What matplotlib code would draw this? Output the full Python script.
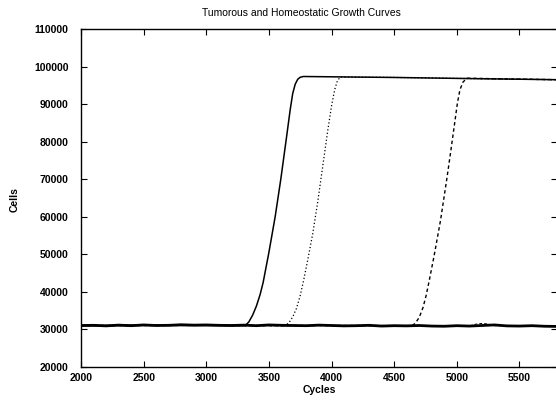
import matplotlib
matplotlib.use('Agg')
import matplotlib.pyplot as plt

# homeostatic (baseline) population, read every 100 cycles
homeo_x = list(range(2000, 5900, 100))
homeo_y = [31050, 31100, 30950, 31150, 31000, 31200, 31050, 31100, 31250, 31150,
           31200, 31100, 31050, 31150, 31000, 31200, 31100, 31050, 31000, 31150,
           31050, 30950, 31000, 31100, 30900, 31000, 30950, 31050, 30900, 30850,
           31000, 30900, 31050, 31200, 30950, 30900, 31000, 30850, 30800]

# second homeostatic run (thin dashed, small bump near 5200)
homeo2_x = [2000, 2400, 2800, 3200, 3600, 4000, 4400, 4800, 5100, 5150, 5200, 5250, 5300, 5500, 5800]
homeo2_y = [31000, 31100, 31050, 31150, 31000, 31100, 30950, 31000, 30900, 31400, 31600, 31450, 31000, 30950, 30850]

# tumorous runs: solid, dotted, dashed
solid_x = [2000, 2500, 3000, 3310, 3340, 3370, 3400, 3430, 3454, 3500, 3550, 3595, 3640,
           3670, 3690, 3710, 3730, 3750, 3775, 4500, 5100, 5800]
solid_y = [31000, 31100, 31050, 31000, 32000, 33800, 36200, 39300, 42500, 50500, 60000,
           70000, 81000, 88500, 92800, 95300, 96600, 97150, 97350, 97100, 96800, 96500]

dotted_x = [2000, 2500, 3000, 3630, 3660, 3690, 3720, 3750, 3780, 3810, 3850, 3890, 3930,
            3970, 4000, 4025, 4045, 4068, 4500, 5100, 5800]
dotted_y = [31050, 31150, 31100, 31000, 31800, 33300, 35600, 39000, 43500, 48500, 55500,
            64000, 73500, 83000, 89500, 93800, 96000, 97200, 97100, 96800, 96500]

dashed_x = [2000, 2500, 3000, 3500, 4000, 4643, 4670, 4700, 4730, 4755, 4780, 4820, 4870,
            4920, 4950, 4980, 5005, 5025, 5050, 5083, 5400, 5800]
dashed_y = [31000, 31050, 31100, 31000, 31050, 31000, 31700, 33200, 35800, 39000, 43000,
            49800, 59000, 70000, 77000, 84200, 90300, 93800, 95900, 96900, 96700, 96500]

x_ticks = [2000, 2500, 3000, 3500, 4000, 4500, 5000, 5500]
y_ticks = [20000, 30000, 40000, 50000, 60000, 70000, 80000, 90000, 100000, 110000]

font = 'Liberation Sans'
plt.rcParams['font.family'] = font

fig = plt.figure(figsize=(5.56, 4.04), dpi=100)
ax = fig.add_axes([81 / 556, 1 - 367 / 404, 476 / 556, 338 / 404])

ax.plot(homeo_x, homeo_y, color='black', lw=2.0, solid_capstyle='butt')
ax.plot(homeo2_x, homeo2_y, color='black', lw=0.7, linestyle=(0, (3, 2)))
ax.plot(dotted_x, dotted_y, color='black', lw=0.9, linestyle=(0, (1, 1.8)))
ax.plot(dashed_x, dashed_y, color='black', lw=1.0, linestyle=(0, (2.5, 2)))
ax.plot(solid_x, solid_y, color='black', lw=1.1)

ax.set_xlim(2000, 5800)
ax.set_ylim(20000, 110000)
ax.set_xticks(x_ticks)
ax.set_yticks(y_ticks)
ax.tick_params(direction='in', length=4, width=0.8, top=True, right=True,
               labelsize=7.5)
ax.tick_params(axis='y', pad=9)
ax.tick_params(axis='x', pad=4)
for lab in ax.get_xticklabels() + ax.get_yticklabels():
    lab.set_fontweight('bold')
for sp in ax.spines.values():
    sp.set_linewidth(1.0)

ax.set_xlabel('Cycles', fontsize=7.5, fontweight='bold', labelpad=2)
fig.text(15 / 556, 1 - 200 / 404, 'Cells', rotation=90, ha='center', va='center',
         fontsize=7.5, fontweight='bold')
fig.text(301 / 556, 1 - 13 / 404, 'Tumorous and Homeostatic Growth Curves',
         ha='center', va='center', fontsize=7.5)

plt.savefig('out.png', dpi=100)
plt.close()
